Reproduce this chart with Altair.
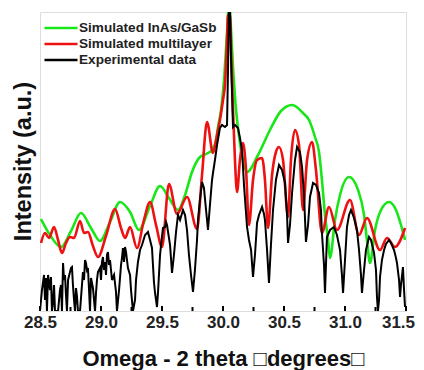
import altair as alt
import pandas as pd

# ---------------- data ----------------
series_names = ["Simulated InAs/GaSb", "Simulated multilayer", "Experimental data"]
series_colors = ["#19e619", "#ee1111", "#000000"]

green_x = [28.508, 28.582, 28.672, 28.754, 28.836, 28.918, 28.992, 29.074, 29.156, 29.238,
           29.311, 29.402, 29.484, 29.557, 29.631, 29.689, 29.746, 29.811, 29.861, 29.910,
           29.943, 29.959, 29.984, 30.008, 30.033, 30.049, 30.066, 30.082, 30.107, 30.139,
           30.197, 30.287, 30.385, 30.475, 30.566, 30.664, 30.705, 30.754, 30.787, 30.811,
           30.836, 30.861, 30.877, 30.918, 30.959, 31.033, 31.107, 31.156, 31.180, 31.205,
           31.246, 31.295, 31.361, 31.418, 31.459, 31.492]
green_y = [92, 76, 64, 80, 98, 83, 70, 89, 109, 99,
           81, 105, 125, 113, 101, 116, 139, 154, 157, 161,
           171, 184, 201, 231, 278, 308, 281, 244, 201, 168,
           139, 156, 181, 200, 206, 197, 191, 174, 159, 131,
           96, 71, 53, 91, 116, 134, 121, 96, 71, 48,
           81, 101, 109, 101, 86, 71]

red_x = [28.508, 28.541, 28.574, 28.615, 28.648, 28.680, 28.713, 28.746, 28.779, 28.828,
         28.861, 28.893, 28.934, 28.975, 29.041, 29.115, 29.164, 29.197, 29.238, 29.295,
         29.352, 29.402, 29.451, 29.500, 29.557, 29.623, 29.705, 29.787, 29.828, 29.869,
         29.918, 29.951, 29.975, 30.000, 30.016, 30.033, 30.041, 30.057, 30.066, 30.082,
         30.098, 30.115, 30.139, 30.164, 30.189, 30.213, 30.246, 30.279, 30.320, 30.344,
         30.369, 30.402, 30.434, 30.459, 30.492, 30.533, 30.557, 30.590, 30.623, 30.656,
         30.689, 30.730, 30.762, 30.811, 30.869, 30.934, 31.041, 31.115, 31.180, 31.287,
         31.344, 31.410, 31.492]
red_y = [68, 78, 73, 84, 71, 58, 68, 74, 73, 90,
         78, 79, 65, 54, 75, 102, 83, 73, 84, 63,
         91, 109, 86, 64, 127, 97, 114, 82, 136, 189,
         158, 176, 191, 211, 226, 271, 296, 296, 261, 201,
         151, 119, 151, 168, 141, 86, 131, 151, 153, 131,
         83, 136, 159, 164, 151, 94, 151, 181, 166, 101,
         151, 169, 141, 78, 104, 81, 111, 76, 93, 61,
         73, 64, 83]

black_x = [28.500, 28.516, 28.533, 28.541, 28.549, 28.557, 28.566, 28.582, 28.590, 28.598,
           28.607, 28.615, 28.623, 28.648, 28.664, 28.672, 28.680, 28.689, 28.697, 28.705,
           28.713, 28.721, 28.730, 28.746, 28.754, 28.762, 28.770, 28.779, 28.787, 28.795,
           28.803, 28.811, 28.828, 28.844, 28.852, 28.861, 28.869, 28.877, 28.885, 28.893,
           28.902, 28.910, 28.918, 28.934, 28.951, 28.959, 28.967, 28.975, 28.992, 29.000,
           29.008, 29.016, 29.025, 29.033, 29.041, 29.049, 29.057, 29.066, 29.074, 29.090,
           29.107, 29.123, 29.131, 29.148, 29.164, 29.172, 29.180, 29.189, 29.197, 29.205,
           29.221, 29.238, 29.246, 29.262, 29.279, 29.287, 29.303, 29.320, 29.336, 29.361,
           29.385, 29.402, 29.418, 29.426, 29.434, 29.443, 29.459, 29.467, 29.484, 29.492,
           29.508, 29.525, 29.533, 29.541, 29.566, 29.582, 29.598, 29.615, 29.631, 29.648,
           29.672, 29.689, 29.705, 29.721, 29.738, 29.754, 29.770, 29.787, 29.795, 29.811,
           29.828, 29.844, 29.861, 29.877, 29.893, 29.910, 29.918, 29.934, 29.951, 29.975,
           29.992, 30.016, 30.033, 30.041, 30.049, 30.057, 30.066, 30.082, 30.098, 30.123,
           30.139, 30.156, 30.172, 30.197, 30.213, 30.230, 30.246, 30.262, 30.279, 30.295,
           30.320, 30.336, 30.344, 30.361, 30.377, 30.393, 30.410, 30.434, 30.459, 30.484,
           30.508, 30.525, 30.533, 30.549, 30.566, 30.590, 30.607, 30.631, 30.648, 30.664,
           30.680, 30.697, 30.713, 30.738, 30.762, 30.787, 30.803, 30.811, 30.828, 30.836,
           30.844, 30.852, 30.877, 30.910, 30.934, 30.959, 30.975, 30.984, 31.000, 31.016,
           31.033, 31.049, 31.074, 31.098, 31.115, 31.131, 31.139, 31.156, 31.172, 31.197,
           31.213, 31.238, 31.254, 31.262, 31.270, 31.279, 31.287, 31.303, 31.320, 31.336,
           31.361, 31.377, 31.402, 31.418, 31.426, 31.443, 31.451, 31.459, 31.475, 31.484,
           31.492]
black_y = [0, 21, 36, 11, 33, 0, 36, 21, 34, 0,
           9, 26, 0, 0, 21, 26, 0, 48, 31, 36,
           16, 0, 31, 39, 43, 44, 26, 11, 0, 23,
           15, 0, 0, 26, 39, 31, 51, 48, 41, 43,
           21, 0, 33, 23, 0, 18, 31, 39, 43, 31,
           49, 54, 41, 49, 36, 56, 59, 46, 51, 31,
           36, 19, 0, 21, 46, 53, 63, 49, 64, 59,
           43, 36, 21, 0, 11, 31, 49, 61, 66, 76,
           79, 71, 63, 46, 29, 18, 4, 18, 56, 66,
           83, 84, 89, 86, 66, 38, 56, 79, 96, 91,
           101, 96, 81, 56, 36, 19, 41, 71, 91, 111,
           129, 123, 101, 81, 106, 131, 138, 151, 166, 183,
           186, 184, 186, 241, 305, 305, 251, 184, 186, 183,
           173, 161, 126, 84, 71, 61, 34, 56, 88, 96,
           104, 97, 91, 61, 28, 66, 101, 131, 146, 141,
           128, 96, 68, 86, 118, 151, 164, 159, 144, 116,
           69, 86, 114, 128, 126, 118, 101, 78, 46, 18,
           46, 74, 81, 84, 76, 61, 36, 18, 51, 84,
           96, 101, 93, 81, 61, 36, 18, 41, 61, 74,
           71, 58, 41, 14, 0, 11, 34, 51, 61, 67,
           71, 68, 61, 53, 48, 31, 14, 26, 44, 21,
           4]

tick_major = [28.5, 29.0, 29.5, 30.0, 30.5, 31.0, 31.5]
tick_minor = [28.75, 29.25, 29.75, 30.25, 30.75, 31.25]

# ---------------- tables ----------------
df = pd.concat([
    pd.DataFrame({"x": green_x, "y": green_y, "series": series_names[0]}),
    pd.DataFrame({"x": red_x, "y": red_y, "series": series_names[1]}),
    pd.DataFrame({"x": black_x, "y": black_y, "series": series_names[2]}),
], ignore_index=True)

ticks_df = pd.concat([
    pd.DataFrame({"t": tick_major, "kind": "major"}),
    pd.DataFrame({"t": tick_minor, "kind": "minor"}),
], ignore_index=True)

FONT = "Liberation Sans"
W, H = 366, 299

xscale = alt.Scale(domain=[28.5, 31.5], nice=False, zero=False)
yscale = alt.Scale(domain=[0, 299], nice=False, zero=False)

x_enc = alt.X("x:Q", scale=xscale, axis=alt.Axis(
    values=tick_major, format=".1f", ticks=False, tickSize=0, domain=False, grid=False,
    labelFont=FONT, labelFontSize=17, labelFontWeight="bold", labelColor="#222222",
    labelPadding=3, labelFlush=False,
    labelOffset=alt.condition("datum.value >= 31.5", alt.value(-8), alt.value(0)),
    title="Omega - 2 theta □degrees□", titleFont=FONT, titleFontSize=22,
    titleFontWeight="bold", titleColor="#111111",
    titleX=W / 2, titleY=54, titleAlign="center", titleBaseline="alphabetic"))

y_enc = alt.Y("y:Q", scale=yscale, axis=alt.Axis(
    labels=False, ticks=False, domain=False, grid=False,
    title="Intensity (a.u.)", titleFont=FONT, titleFontSize=23.5,
    titleFontWeight="bold", titleColor="#111111", titleAngle=-90,
    titleX=-10, titleY=149, titleAlign="center", titleBaseline="alphabetic"))

color_enc = alt.Color("series:N", scale=alt.Scale(domain=series_names, range=series_colors),
                      legend=alt.Legend(
                          title=None, orient="none", legendX=14, legendY=9, padding=0,
                          symbolType="M-3,0H3", symbolSize=121, symbolStrokeWidth=2.5,
                          symbolFillColor="transparent",
                          labelFont=FONT, labelFontSize=13.6, labelFontWeight="bold",
                          labelColor="#222222", labelOffset=11, rowPadding=2,
                          labelLimit=300))

base = alt.Chart(df)


def line_layer(name, width, interp):
    return base.transform_filter(alt.datum.series == name).mark_line(
        strokeWidth=width, interpolate=interp, clip=True
    ).encode(x=x_enc, y=y_enc, color=color_enc, order=alt.Order("x:Q"))


green = line_layer(series_names[0], 2.6, "monotone")
red = line_layer(series_names[1], 2.6, "monotone")
black = line_layer(series_names[2], 2.0, "linear")

ticks_major = alt.Chart(ticks_df).transform_filter(alt.datum.kind == "major").mark_rule(
    color="black", strokeWidth=2).encode(
    x=alt.X("t:Q", scale=xscale), y=alt.value(H), y2=alt.value(H - 5))
ticks_minor = alt.Chart(ticks_df).transform_filter(alt.datum.kind == "minor").mark_rule(
    color="black", strokeWidth=2).encode(
    x=alt.X("t:Q", scale=xscale), y=alt.value(H), y2=alt.value(H - 4))

chart = alt.layer(green, red, black, ticks_major, ticks_minor).properties(
    width=W, height=H,
    autosize=alt.AutoSizeParams(type="none"),
    padding={"left": 32, "top": 4, "right": 10, "bottom": 60},
).configure_view(stroke="black", strokeWidth=3).configure(background="white")

chart.save("out.html", embed_options={"renderer": "svg", "actions": False})
